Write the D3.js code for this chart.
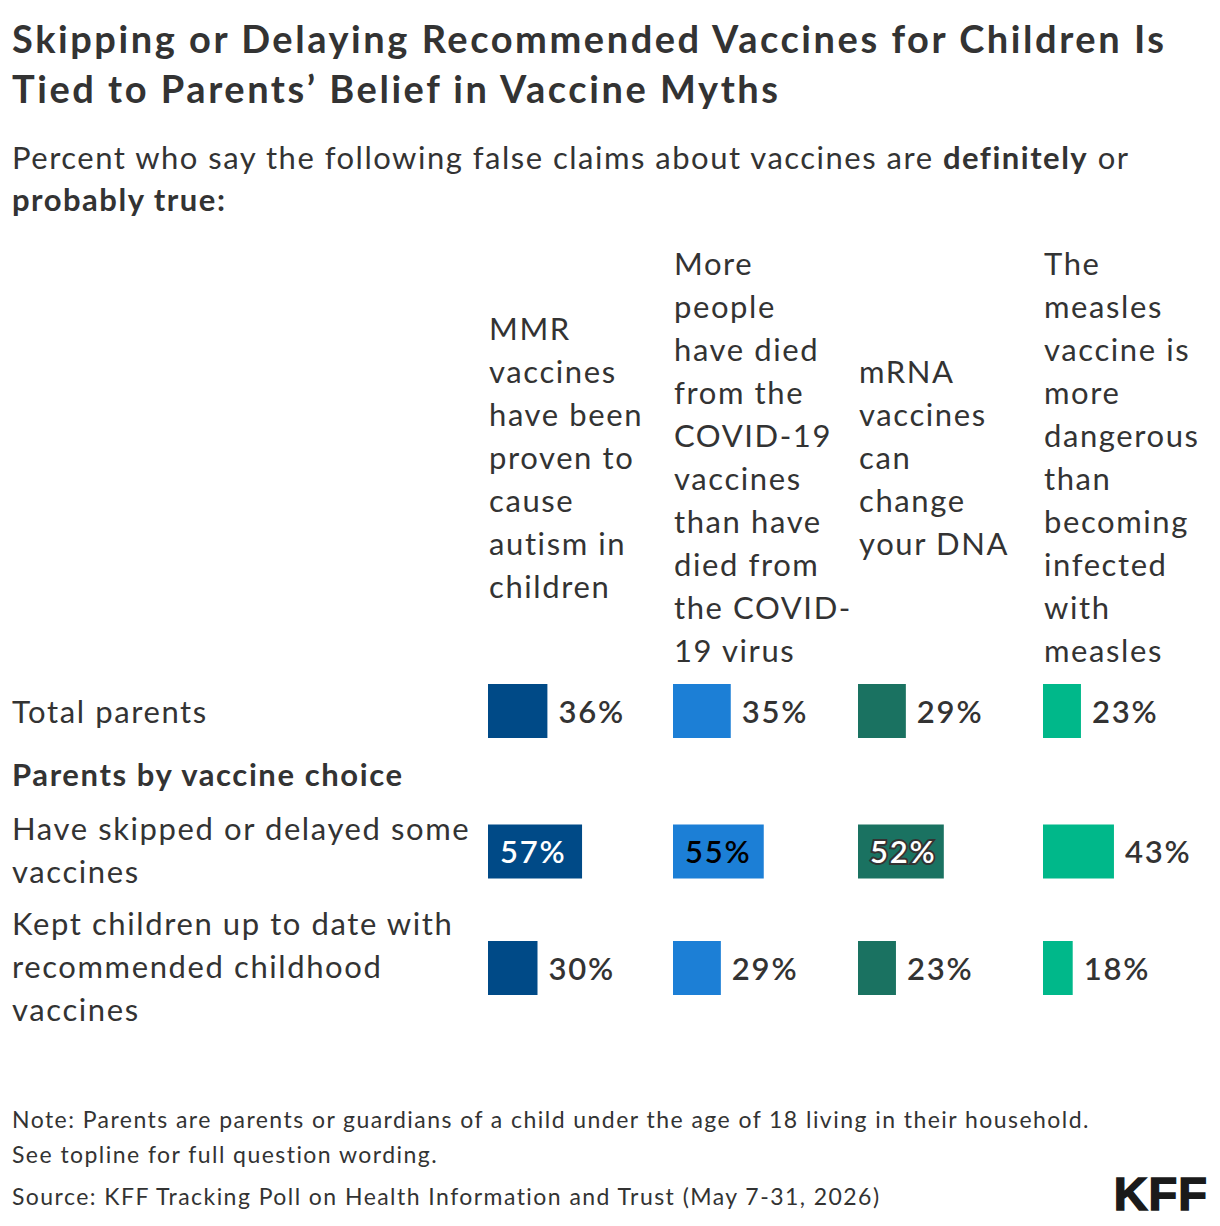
<!DOCTYPE html>
<html>
<head>
<meta charset="utf-8">
<script src="https://cdn.jsdelivr.net/npm/d3@7"></script>
<style>
  body { margin: 0; background: #fff; }
  svg text { font-family: Lato, "Noto Sans", sans-serif; fill: #333; }
</style>
</head>
<body>
<script>
// column headers (the four false claims), with their line breaks
var myths = ["mmr", "covid", "mrna", "measles"];
var mythLines = [
  ["MMR", "vaccines", "have been", "proven to", "cause", "autism in", "children"],
  ["More", "people", "have died", "from the", "COVID-19", "vaccines", "than have", "died from", "the COVID-", "19 virus"],
  ["mRNA", "vaccines", "can", "change", "your DNA"],
  ["The", "measles", "vaccine is", "more", "dangerous", "than", "becoming", "infected", "with", "measles"]
];

// row groups
var groups = ["Total parents", "Parents by vaccine choice", "Have skipped or delayed some vaccines", "Kept children up to date with recommended childhood vaccines"];
var groupLines = [
  ["Total parents"],
  ["Parents by vaccine choice"],
  ["Have skipped or delayed some", "vaccines"],
  ["Kept children up to date with", "recommended childhood", "vaccines"]
];
var isHeading = [false, true, false, false];

// percent who say definitely/probably true
var totalParents = [36, 35, 29, 23];
var skippedDelayed = [57, 55, 52, 43];
var keptUpToDate = [30, 29, 23, 18];

var colors = ["#004a87", "#1c7fd6", "#1a7261", "#00b88a"];

window.onload = function() {
  draw();
};

function draw() {
  var W = 1220, H = 1226;
  var svg = d3.select("body").append("svg")
    .attr("width", W)
    .attr("height", H);

  // title
  var title = svg.append("text")
    .attr("x", 12)
    .style("font-size", "38px")
    .style("font-weight", 700)
    .style("letter-spacing", "2.55px")
    .style("fill", "#333");
  title.append("tspan").attr("x", 12).attr("y", 53).text("Skipping or Delaying Recommended Vaccines for Children Is");
  title.append("tspan").attr("x", 12).attr("y", 103).text("Tied to Parents\u2019 Belief in Vaccine Myths");

  // subtitle
  var sub = svg.append("text").style("font-size", "31px").style("letter-spacing", "1.5px");
  var l1 = sub.append("tspan").attr("x", 12).attr("y", 169);
  l1.append("tspan").text("Percent who say the following false claims about vaccines are ");
  l1.append("tspan").style("font-weight", 700).text("definitely");
  l1.append("tspan").text(" or");
  sub.append("tspan").attr("x", 12).attr("y", 211).style("font-weight", 700).text("probably true:");

  // columns
  var x = d3.scaleBand()
    .domain(myths)
    .range([488, 1228]);

  var w = d3.scaleLinear()
    .domain([0, 100])
    .range([0, 165]);

  var lineH = 43;
  var fs = "31px";
  var ls = "1.6px";

  // column headers, vertically centred
  var headerMid = 458;
  myths.forEach(function(m, i) {
    var lines = mythLines[i];
    var top = headerMid - (lines.length - 1) * lineH / 2;
    var t = svg.append("text").style("font-size", fs).style("letter-spacing", ls);
    lines.forEach(function(s, j) {
      t.append("tspan")
        .attr("x", x(m) + 1)
        .attr("y", top + j * lineH)
        .attr("dy", "0.35em")
        .text(s);
    });
  });

  // rows: height comes from the number of label lines
  var barH = 54;
  var pad = 9;
  var rowH = groupLines.map(function(lines, i) {
    return isHeading[i] ? 60 : Math.max(lines.length * lineH, barH + 3) + pad;
  });
  var startY = 678;
  var rowCenter = [];
  var acc = startY;
  rowH.forEach(function(h) {
    rowCenter.push(acc + h / 2);
    acc += h;
  });

  var rowData = [totalParents, null, skippedDelayed, keptUpToDate];

  groups.forEach(function(g, i) {
    var lines = groupLines[i];
    var top = rowCenter[i] - (lines.length - 1) * lineH / 2 + (lines.length > 1 ? -1 : 1);
    var t = svg.append("text")
      .style("font-size", fs)
      .style("letter-spacing", ls)
      .style("font-weight", isHeading[i] ? 700 : 400);
    lines.forEach(function(s, j) {
      t.append("tspan")
        .attr("x", 12)
        .attr("y", top + j * lineH)
        .attr("dy", "0.35em")
        .text(s);
    });

    var vals = rowData[i];
    if (!vals) return;

    var row = svg.append("g");
    row.selectAll("rect")
      .data(vals)
      .enter()
      .append("rect")
      .attr("x", function(d, k) { return x(myths[k]); })
      .attr("y", rowCenter[i] - barH / 2)
      .attr("width", function(d) { return w(d); })
      .attr("height", barH)
      .style("fill", function(d, k) { return colors[k]; });

    // labels: inside the bar when it is wide enough
    row.selectAll("text")
      .data(vals)
      .enter()
      .append("text")
      .attr("x", function(d, k) {
        return d >= 50 ? x(myths[k]) + 12 : x(myths[k]) + w(d) + 11;
      })
      .attr("y", rowCenter[i] + 1)
      .attr("dy", "0.35em")
      .style("font-size", fs)
      .style("letter-spacing", "1.8px")
      .style("font-weight", 600)
      .style("fill", function(d, k) {
        if (d < 50) return "#333";
        return k == 1 ? "#000" : "#fff";
      })
      .style("stroke", function(d, k) { return (d >= 50 && k == 2) ? "#333" : "none"; })
      .style("stroke-width", 4)
      .style("paint-order", "stroke")
      .text(function(d) { return d + "%"; });
  });

  // notes
  var notes = [
    "Note: Parents are parents or guardians of a child under the age of 18 living in their household.",
    "See topline for full question wording.",
    "Source: KFF Tracking Poll on Health Information and Trust (May 7-31, 2026)"
  ];
  var noteY = [1128, 1163, 1205];
  svg.selectAll(".note")
    .data(notes)
    .enter()
    .append("text")
    .attr("class", "note")
    .attr("x", 12)
    .attr("y", function(d, i) { return noteY[i]; })
    .style("font-size", "23px")
    .style("letter-spacing", "1.45px")
    .text(function(d) { return d; });

  // logo
  svg.append("text")
    .attr("x", 1208)
    .attr("y", 1210)
    .attr("text-anchor", "end")
    .style("font-family", "'Liberation Sans', Arial, sans-serif")
    .style("font-size", "47px")
    .style("font-weight", 700)
    .style("fill", "#1a1a1a")
    .style("stroke", "#1a1a1a")
    .style("stroke-width", 1.5)
    .style("letter-spacing", "1px")
    .text("KFF");
}
</script>
</body>
</html>
